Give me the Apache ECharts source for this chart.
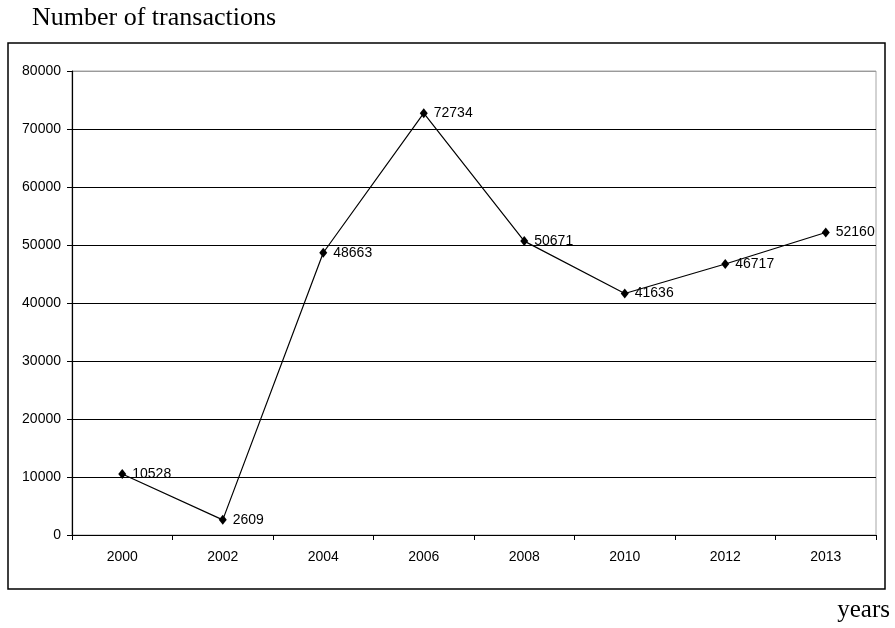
<!DOCTYPE html>
<html>
<head>
<meta charset="utf-8">
<script src="https://cdn.jsdelivr.net/npm/echarts@6/dist/echarts.min.js"></script>
<style>html,body{margin:0;padding:0;background:#fff;}#c{width:895px;height:628px;}</style>
</head>
<body>
<div id="c"></div>
<script>
const years = ['2000','2002','2004','2006','2008','2010','2012','2013'];
const transactions = [10528, 2609, 48663, 72734, 50671, 41636, 46717, 52160];
const yTicks = {min: 0, max: 80000, interval: 10000};
const titleText = 'Number of transactions';
const xName = 'years';

const chart = echarts.init(document.getElementById('c'), null, {renderer: 'canvas'});
const gridColors = ['#000','#000','#000','#000','#000','#000','#000','#000','#9a9a9a'];
chart.setOption({
  animation: false,
  backgroundColor: '#fff',
  grid: {left: 72, right: 19, top: 71, bottom: 93, show: true, borderColor: '#a6a6a6', borderWidth: 1, backgroundColor: 'transparent'},
  xAxis: {
    type: 'category', data: years, boundaryGap: true,
    axisLine: {lineStyle: {color: '#000', width: 1.2}},
    axisTick: {show: true, length: 5, inside: false, lineStyle: {color: '#000'}},
    axisLabel: {color: '#000', fontFamily: 'Liberation Sans', fontSize: 14, margin: 15}
  },
  yAxis: {
    type: 'value', min: yTicks.min, max: yTicks.max, interval: yTicks.interval,
    axisLine: {show: true, lineStyle: {color: '#000', width: 1.2}},
    axisTick: {show: true, length: 5, lineStyle: {color: '#000'}},
    axisLabel: {color: '#000', fontFamily: 'Liberation Sans', fontSize: 14, margin: 11, formatter: v => String(v)},
    splitLine: {show: true, lineStyle: {color: gridColors, width: 1}}
  },
  series: [{
    type: 'line', data: transactions,
    symbol: 'diamond', symbolSize: [8, 10],
    itemStyle: {color: '#000'},
    lineStyle: {color: '#000', width: 1.2},
    label: {show: true, position: 'right', distance: 6, color: '#000', fontFamily: 'Liberation Sans', fontSize: 14}
  }],
  graphic: [
    {type: 'rect', shape: {x: 8, y: 43, width: 877, height: 546}, style: {fill: 'none', stroke: '#000', lineWidth: 1.5}, z: 100},
    {type: 'text', left: 32, top: 5, style: {text: titleText, font: '26px "Liberation Serif"', fill: '#000'}},
    {type: 'text', right: 5, top: 598, style: {text: xName, font: '25px "Liberation Serif"', fill: '#000'}}
  ]
});
</script>
</body>
</html>
